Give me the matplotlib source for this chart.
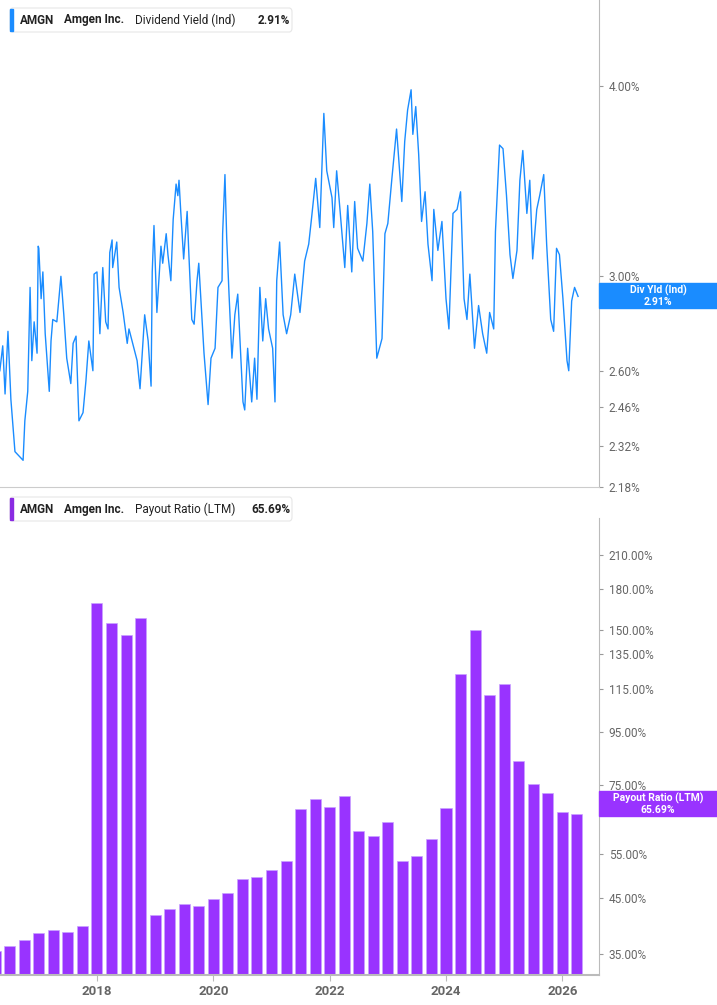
import numpy as np
from matplotlib import pyplot as plt
from matplotlib.patches import FancyBboxPatch, Rectangle

plt.rcParams['font.family'] = ['Roboto', 'DejaVu Sans']

# Dividend yield (decimal year, %)
yld_years = [2016.33, 2016.38, 2016.42, 2016.47, 2016.52, 2016.59, 2016.73, 2016.76, 2016.81, 2016.85,
             2016.88, 2016.92, 2016.97, 2016.99, 2017.00, 2017.04, 2017.07, 2017.11, 2017.14, 2017.18,
             2017.21, 2017.24, 2017.31, 2017.38, 2017.43, 2017.48, 2017.55, 2017.59, 2017.64, 2017.69,
             2017.76, 2017.81, 2017.86, 2017.93, 2017.95, 2018.00, 2018.05, 2018.10, 2018.15, 2018.19,
             2018.22, 2018.26, 2018.27, 2018.34, 2018.38, 2018.45, 2018.52, 2018.55, 2018.69, 2018.74,
             2018.82, 2018.88, 2018.93, 2018.95, 2018.98, 2019.03, 2019.10, 2019.13, 2019.19, 2019.22,
             2019.27, 2019.31, 2019.36, 2019.39, 2019.41, 2019.44, 2019.49, 2019.55, 2019.58, 2019.63,
             2019.67, 2019.72, 2019.75, 2019.80, 2019.84, 2019.91, 2019.96, 2020.03, 2020.08, 2020.15,
             2020.16, 2020.20, 2020.23, 2020.27, 2020.32, 2020.37, 2020.42, 2020.51, 2020.54, 2020.59,
             2020.66, 2020.71, 2020.75, 2020.80, 2020.85, 2020.90, 2020.95, 2021.02, 2021.06, 2021.09,
             2021.14, 2021.20, 2021.26, 2021.33, 2021.40, 2021.49, 2021.57, 2021.64, 2021.69, 2021.76,
             2021.83, 2021.90, 2021.95, 2022.04, 2022.07, 2022.12, 2022.18, 2022.26, 2022.31, 2022.38,
             2022.43, 2022.48, 2022.57, 2022.64, 2022.69, 2022.74, 2022.81, 2022.90, 2022.95, 2023.00,
             2023.07, 2023.15, 2023.24, 2023.29, 2023.34, 2023.40, 2023.43, 2023.48, 2023.53, 2023.58,
             2023.64, 2023.69, 2023.76, 2023.79, 2023.86, 2023.93, 2024.00, 2024.05, 2024.12, 2024.19,
             2024.25, 2024.31, 2024.36, 2024.41, 2024.49, 2024.56, 2024.63, 2024.70, 2024.75, 2024.82,
             2024.85, 2024.92, 2024.98, 2025.04, 2025.10, 2025.15, 2025.22, 2025.27, 2025.32, 2025.39,
             2025.44, 2025.49, 2025.56, 2025.61, 2025.68, 2025.73, 2025.80, 2025.85, 2025.90, 2025.95,
             2026.01, 2026.08, 2026.11, 2026.16, 2026.21, 2026.27]
yld_values = [2.60, 2.70, 2.51, 2.76, 2.49, 2.30, 2.27, 2.41, 2.52, 2.95,
              2.64, 2.80, 2.67, 3.14, 3.13, 2.90, 3.02, 2.75, 2.65, 2.52,
              2.72, 2.81, 2.80, 3.00, 2.83, 2.65, 2.55, 2.71, 2.74, 2.41,
              2.44, 2.56, 2.72, 2.60, 3.01, 3.02, 2.75, 3.04, 2.80, 2.77,
              3.11, 3.17, 3.04, 3.16, 2.95, 2.84, 2.71, 2.77, 2.64, 2.53,
              2.83, 2.72, 2.54, 3.02, 3.24, 2.84, 3.14, 3.06, 3.20, 3.10,
              2.98, 3.27, 3.45, 3.39, 3.47, 3.31, 3.08, 3.31, 3.10, 2.81,
              2.79, 2.98, 3.06, 2.84, 2.67, 2.47, 2.65, 2.69, 2.95, 2.98,
              3.20, 3.50, 3.18, 2.92, 2.65, 2.83, 2.92, 2.48, 2.45, 2.69,
              2.48, 2.65, 2.49, 2.95, 2.72, 2.90, 2.77, 2.69, 2.48, 2.98,
              3.16, 2.83, 2.75, 2.83, 3.01, 2.84, 3.07, 3.15, 3.28, 3.48,
              3.23, 3.84, 3.52, 3.38, 3.23, 3.52, 3.31, 3.04, 3.34, 3.02,
              3.36, 3.13, 3.07, 3.25, 3.45, 3.21, 2.65, 2.73, 3.20, 3.25,
              3.48, 3.75, 3.36, 3.68, 3.86, 3.98, 3.72, 3.88, 3.61, 3.26,
              3.41, 3.15, 2.98, 3.32, 3.12, 3.26, 2.90, 2.77, 3.30, 3.32,
              3.41, 2.90, 2.81, 3.01, 2.69, 2.87, 2.75, 2.67, 2.84, 2.77,
              3.21, 3.66, 3.64, 3.39, 3.10, 2.99, 3.12, 3.47, 3.63, 3.30,
              3.47, 3.08, 3.32, 3.39, 3.50, 3.15, 2.81, 2.76, 3.13, 3.10,
              2.90, 2.64, 2.60, 2.89, 2.95, 2.91]

# Payout ratio (quarterly, %)
pay_quarters = [2016.25 + 0.25 * i for i in range(41)]
pay_values = [35.5, 36.4, 37.4, 38.6, 39.0, 38.7, 39.8, 169.5, 155, 147, 158,
              41.8, 42.9, 43.8, 43.5, 44.8, 46.1, 49.0, 49.6, 51.2, 53.3,
              67.2, 70.2, 67.8, 71.3, 61.0, 59.6, 63.5, 53.3, 54.3, 58.6,
              67.5, 123, 150, 112, 118, 83.4, 75.1, 72.1, 66.2, 65.69]

yld_ticks = [2.18, 2.32, 2.46, 2.60, 3.00, 4.00]
pay_ticks = [35, 45, 55, 75, 95, 115, 135, 150, 180, 210]
year_ticks = [2018, 2020, 2022, 2024, 2026]

line_c = '#1a8cff'
bar_c = '#9933ff'
grey = '#666666'
xlim = (2016.333, 2026.63)

fig = plt.figure(figsize=(7.17, 10.05), dpi=100)
W, H = 717, 1005
ax1 = fig.add_axes([0, (H - 487) / H, 599 / W, 487 / H])
ax2 = fig.add_axes([0, 30 / H, 599 / W, 457 / H])

ax1.plot(yld_years, yld_values, color=line_c, lw=1.0)
ax1.set_yscale('log')
ax1.set_ylim(2.18, 4.56)
ax2.bar(pay_quarters, pay_values, width=0.19, color=bar_c, edgecolor='#c9a3ff', linewidth=0.5)
ax2.set_yscale('log')
ax2.set_ylim(31.9, 248)

for ax, ticks in ((ax1, yld_ticks), (ax2, pay_ticks)):
    ax.set_xlim(*xlim)
    ax.yaxis.tick_right()
    ax.minorticks_off()
    ax.set_yticks(ticks)
    ax.set_yticklabels(['%.2f%%' % t for t in ticks], color=grey, fontsize=8.5)
    ax.tick_params(axis='y', length=3, color='#999999', pad=4)
    for s in ('top', 'left'):
        ax.spines[s].set_visible(False)
    ax.spines['right'].set_color('#bbbbbb')
    ax.spines['bottom'].set_color('#cccccc')
ax1.set_xticks([])
ax2.set_xticks(year_ticks)
ax2.set_xticklabels([str(y) for y in year_ticks], color=grey, fontsize=9.5, fontweight='bold')
ax2.tick_params(axis='x', length=4, color='#bbbbbb')
ax2.spines['bottom'].set_color('#bbbbbb')
ax2.spines['bottom'].set_linewidth(1.5)

# legend boxes
def legend_box(y_top, name, val, color):
    box = FancyBboxPatch((10 / W, 1 - (y_top + 24) / H), 282 / W, 24 / H,
                         boxstyle='round,pad=0,rounding_size=0.004', transform=fig.transFigure,
                         facecolor='white', edgecolor='#e6e6e6', lw=0.8)
    fig.patches.append(box)
    fig.patches.append(Rectangle((10 / W, 1 - (y_top + 23) / H), 3 / W, 22 / H,
                                 transform=fig.transFigure, color=color))
    yc = 1 - (y_top + 12) / H
    fig.text(20 / W, yc, 'AMGN', fontsize=8.5, fontweight='bold', va='center', color='#222222')
    fig.text(64 / W, yc, 'Amgen Inc.', fontsize=8.5, fontweight='bold', va='center', color='#222222')
    fig.text(135 / W, yc, name, fontsize=8.5, va='center', color='#222222')
    fig.text(290 / W, yc, val, fontsize=8.5, fontweight='bold', va='center', ha='right', color='#222222')

legend_box(8, 'Dividend Yield (Ind)', '2.91%', line_c)
legend_box(497, 'Payout Ratio (LTM)', '65.69%', '#8a2be2')

# value tags on the right
def tag(y_top, label, val, color):
    fig.patches.append(Rectangle((599 / W, 1 - (y_top + 25) / H), 118 / W, 25 / H,
                                 transform=fig.transFigure, color=color))
    xc = 658 / W
    fig.text(xc, 1 - (y_top + 7) / H, label, fontsize=7.5, fontweight='bold', color='white', ha='center', va='center')
    fig.text(xc, 1 - (y_top + 19) / H, val, fontsize=7.5, fontweight='bold', color='white', ha='center', va='center')

tag(283, 'Div Yld (Ind)', '2.91%', line_c)
tag(791, 'Payout Ratio (LTM)', '65.69%', bar_c)

fig.savefig('out.png', dpi=100)
